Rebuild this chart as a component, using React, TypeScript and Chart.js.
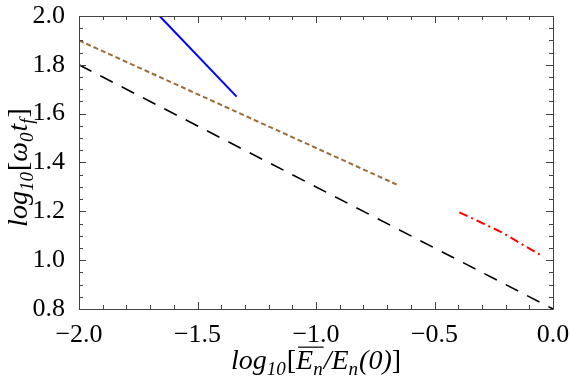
import React, { useEffect, useRef } from "react";
import { Chart, registerables } from "chart.js";

Chart.register(...registerables);

// ---- data ----
const blackX = [-2.0, 0.0];
const blackY = [1.8, 0.8];
const brownX = [-2.0, -0.66];
const brownY = [1.9, 1.31];
const blueX = [-1.66, -1.335];
const blueY = [2.0, 1.67];
const redX = [-0.395, -0.216, -0.041];
const redY = [1.196, 1.114, 1.014];

const xTickVals = [-2.0, -1.5, -1.0, -0.5, 0.0];
const yTickVals = [0.8, 1.0, 1.2, 1.4, 1.6, 1.8, 2.0];
const xMin = -2.0, xMax = 0.0, yMin = 0.8, yMax = 2.0;

const FONT = '"Liberation Serif", "Times New Roman", serif';

type Part = { t: string; it?: boolean; sub?: boolean; over?: boolean };
const xTitle: Part[] = [
  { t: "log", it: true }, { t: "10", it: true, sub: true }, { t: "[" },
  { t: "E", it: true, over: true }, { t: "n", it: true, sub: true, over: true },
  { t: "/", it: true }, { t: "E", it: true }, { t: "n", it: true, sub: true },
  { t: "(0)", it: true }, { t: "]" },
];
const yTitle: Part[] = [
  { t: "log", it: true }, { t: "10", it: true, sub: true }, { t: "[" },
  { t: "ω", it: true }, { t: "0", it: true, sub: true }, { t: "t", it: true },
  { t: "f", it: true, sub: true }, { t: "]" },
];

const toPts = (xs: number[], ys: number[]) => xs.map((x, i) => ({ x, y: ys[i] }));

function drawRich(ctx: CanvasRenderingContext2D, parts: Part[], cx: number, baseY: number, size: number, subSize: number) {
  const fontOf = (p: Part) => `${p.it ? "italic " : ""}${p.sub ? subSize : size}px ${FONT}`;
  const widths = parts.map((p) => { ctx.font = fontOf(p); return ctx.measureText(p.t).width + (p.sub ? 1 : 0); });
  const total = widths.reduce((a, b) => a + b, 0);
  let x = cx - total / 2;
  let overStart = -1, overEnd = -1;
  ctx.fillStyle = "#000";
  ctx.textBaseline = "alphabetic";
  ctx.textAlign = "left";
  parts.forEach((p, i) => {
    ctx.font = fontOf(p);
    ctx.fillText(p.t, x, baseY + (p.sub ? size * 0.22 : 0));
    if (p.over) { if (overStart < 0) overStart = x; overEnd = x + widths[i]; }
    x += widths[i];
  });
  if (overStart >= 0) {
    ctx.strokeStyle = "#000";
    ctx.lineWidth = 1.2;
    ctx.beginPath();
    const oy = baseY - size * 0.78;
    ctx.moveTo(overStart + 2, oy);
    ctx.lineTo(overEnd, oy);
    ctx.stroke();
  }
}

const framePlugin = {
  id: "frameTicks",
  afterDraw(chart: any) {
    const ctx: CanvasRenderingContext2D = chart.ctx;
    const { left, right, top, bottom } = chart.chartArea;
    const xs = chart.scales.x, ys = chart.scales.y;
    ctx.save();
    ctx.lineWidth = 1;
    ctx.strokeStyle = "#444";
    ctx.beginPath();
    ctx.rect(left + 0.5, top + 0.5, right - left, bottom - top);
    ctx.stroke();
    ctx.beginPath();
    for (let i = 0; i <= 20; i++) {
      const v = xMin + i * 0.1;
      const major = i % 5 === 0;
      const len = major ? 7 : 4;
      const px = Math.round(xs.getPixelForValue(v)) + 0.5;
      ctx.moveTo(px, bottom); ctx.lineTo(px, bottom - len);
      ctx.moveTo(px, top); ctx.lineTo(px, top + len);
    }
    for (let i = 0; i <= 24; i++) {
      const v = yMin + i * 0.05;
      const major = i % 4 === 0;
      const len = major ? 7 : 4;
      const py = Math.round(ys.getPixelForValue(v)) + 0.5;
      ctx.moveTo(left, py); ctx.lineTo(left + len, py);
      ctx.moveTo(right, py); ctx.lineTo(right - len, py);
    }
    ctx.stroke();
    // axis titles
    drawRich(ctx, xTitle, (left + right) / 2, 369, 28, 19);
    ctx.translate(27, (top + bottom) / 2 + 5);
    ctx.rotate(-Math.PI / 2);
    drawRich(ctx, yTitle, 0, 0, 28, 19);
    ctx.restore();
  },
};

export default function App() {
  const ref = useRef<HTMLCanvasElement>(null);
  useEffect(() => {
    document.body.style.margin = "0";
    const fmt = (v: number) => (v < -1e-9 ? "\u2212" : "") + Math.abs(v).toFixed(1);
    const chart = new Chart(ref.current!, {
      type: "scatter",
      data: {
        datasets: [
          { data: toPts(blackX, blackY), showLine: true, borderColor: "#000", borderWidth: 1.6, borderDash: [14, 10], pointRadius: 0 },
          { data: toPts(brownX, brownY), showLine: true, borderColor: "#9c6b3a", borderWidth: 2, borderDash: [5, 3], pointRadius: 0 },
          { data: toPts(blueX, blueY), showLine: true, borderColor: "#0000ff", borderWidth: 2, pointRadius: 0 },
          { data: toPts(redX, redY), showLine: true, borderColor: "#ff0000", borderWidth: 2, borderDash: [9, 4, 2, 4], pointRadius: 0 },
        ],
      },
      options: {
        responsive: false,
        animation: false,
        layout: { padding: { left: 0, top: 16, right: 18, bottom: 0 } },
        plugins: { legend: { display: false }, tooltip: { enabled: false } },
        scales: {
          x: {
            type: "linear", min: xMin, max: xMax,
            grid: { display: false }, border: { display: false },
            afterBuildTicks: (s: any) => { s.ticks = xTickVals.map((v) => ({ value: v })); },
            afterFit: (s: any) => { s.height = 75; s.paddingLeft = 0; s.paddingRight = 0; },
            ticks: { autoSkip: false, maxRotation: 0, padding: 3, color: "#000", font: { family: FONT, size: 26 }, callback: (v: any) => fmt(Number(v)) },
          },
          y: {
            type: "linear", min: yMin, max: yMax,
            grid: { display: false }, border: { display: false },
            afterBuildTicks: (s: any) => { s.ticks = yTickVals.map((v) => ({ value: v })); },
            afterFit: (s: any) => { s.width = 79; s.paddingTop = 0; s.paddingBottom = 0; },
            ticks: { autoSkip: false, padding: 6, color: "#000", font: { family: FONT, size: 26 }, callback: (v: any) => fmt(Number(v)) },
          },
        },
      },
      plugins: [framePlugin],
    });
    return () => chart.destroy();
  }, []);
  return <canvas ref={ref} width={571} height={384} style={{ display: "block" }} />;
}
